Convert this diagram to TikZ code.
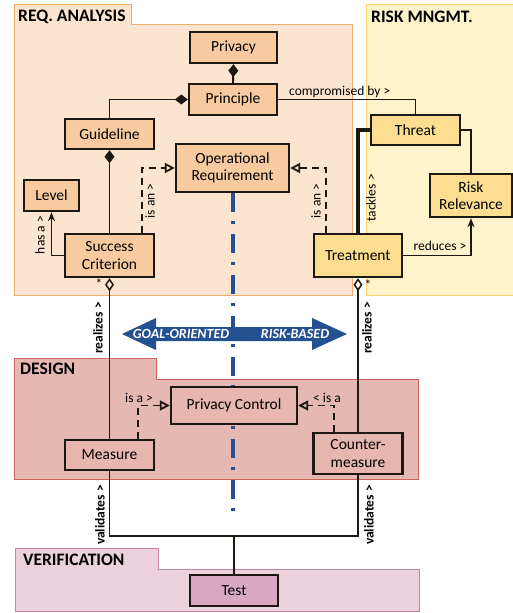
\documentclass[tikz,border=0pt]{standalone}
\usepackage{fontspec}
\setmainfont{Carlito}
\usetikzlibrary{arrows.meta}
\definecolor{reqfill}{RGB}{252,229,208}
\definecolor{reqborder}{RGB}{240,170,110}
\definecolor{reqnode}{RGB}{247,202,160}
\definecolor{riskfill}{RGB}{255,243,204}
\definecolor{riskborder}{RGB}{250,215,110}
\definecolor{risknode}{RGB}{253,222,145}
\definecolor{desfill}{RGB}{230,184,178}
\definecolor{desborder}{RGB}{200,100,90}
\definecolor{desnode}{RGB}{230,182,175}
\definecolor{verfill}{RGB}{234,209,220}
\definecolor{verborder}{RGB}{200,130,165}
\definecolor{vernode}{RGB}{215,168,192}
\definecolor{edgecol}{RGB}{30,24,18}
\definecolor{arrowblue}{RGB}{35,80,145}
\definecolor{dashblue}{RGB}{40,80,145}
\tikzset{
  box/.style={draw=edgecol, line width=2.4pt, inner sep=0pt, align=center,
    font=\fontsize{15.5}{17.5}\selectfont},
  reqbox/.style={box, fill=reqnode},
  riskbox/.style={box, fill=risknode},
  desbox/.style={box, fill=desnode},
  verbox/.style={box, fill=vernode},
  conn/.style={draw=edgecol, line width=1.9pt},
  isa/.style={conn, dashed, dash pattern=on 7pt off 5pt, -{Triangle[open, length=10pt, width=10pt, line width=1.8pt]}},
  comp/.style={conn, {Diamond[length=13pt, width=10pt]}-},
  agg/.style={conn, {Diamond[open, length=13pt, width=9pt, line width=1.5pt]}-},
  lbl/.style={font=\fontsize{13.5}{15}\selectfont, inner sep=1pt},
  blbl/.style={font=\bfseries\fontsize{13.5}{15}\selectfont, inner sep=1pt},
  pkgtitle/.style={font=\bfseries\fontsize{17.5}{19}\selectfont, anchor=west, inner sep=0pt},
  bannertext/.style={font=\bfseries\itshape\fontsize{14}{15}\selectfont, text=white, inner sep=0pt},
}
\begin{document}
\begin{tikzpicture}[x=1pt, y=-1pt]
\useasboundingbox (0,0) rectangle (513,613);
\fill[white] (0,0) rectangle (513,613);
% packages
\draw[fill=reqfill, draw=reqborder, line width=1pt] (14,4) -- (131,4) -- (131,24) -- (352,24) -- (352,295) -- (14,295) -- cycle;
\node[pkgtitle] (tReq) at (18,17) {REQ. ANALYSIS};
\draw[fill=riskfill, draw=riskborder, line width=1pt] (366,4) -- (514,4) -- (514,295) -- (366,295) -- cycle;
\node[pkgtitle] (tRisk) at (371,17) {RISK MNGMT.};
\draw[fill=desfill, draw=desborder, line width=1pt] (14,358) -- (156,358) -- (156,379) -- (418,379) -- (418,479) -- (14,479) -- cycle;
\node[pkgtitle] (tDes) at (20,369) {DESIGN};
\draw[fill=verfill, draw=verborder, line width=1pt] (15,548) -- (158,548) -- (158,569) -- (419,569) -- (419,611) -- (15,611) -- cycle;
\node[pkgtitle] (tVer) at (23,560) {VERIFICATION};
% blue double arrow
\fill[arrowblue] (122,334) -- (156,318) -- (156,327) -- (312,327) -- (312,318) -- (347,334) -- (312,350) -- (312,341) -- (156,341) -- (156,350) -- cycle;
\node[bannertext] (goal) at (181,334) {GOAL-ORIENTED};
\node[bannertext] (risk) at (295,334) {RISK-BASED};
% dash-dot line
\coordinate (dtop) at (233,193);
\coordinate (dbot) at (233,520);
\draw[dashblue, line width=4pt, dash pattern=on 19pt off 9pt on 3pt off 10pt] (dtop) -- (dbot);
% nodes
\node[reqbox, minimum width=87pt, minimum height=31pt] (privacy) at (233.5,47.5) {Privacy};
\node[reqbox, minimum width=88pt, minimum height=31pt] (principle) at (233,99.5) {Principle};
\node[reqbox, minimum width=89pt, minimum height=30pt] (guideline) at (109.5,134) {Guideline};
\node[reqbox, minimum width=113pt, minimum height=48pt] (opreq) at (232.5,168) {Operational\\Requirement};
\node[reqbox, minimum width=55pt, minimum height=31pt] (level) at (51.5,195.5) {Level};
\node[reqbox, minimum width=89pt, minimum height=43pt] (sc) at (109.5,255.5) {Success\\Criterion};
\node[riskbox, minimum width=89pt, minimum height=30pt] (threat) at (415.5,130) {Threat};
\node[riskbox, minimum width=82pt, minimum height=43pt] (riskrel) at (471,195.5) {Risk\\Relevance};
\node[riskbox, minimum width=88pt, minimum height=43pt] (treatment) at (358,255.5) {Treatment};
\node[desbox, minimum width=126pt, minimum height=37pt] (pc) at (234,405.5) {Privacy Control};
\node[desbox, minimum width=89pt, minimum height=30pt] (measure) at (109.5,455) {Measure};
\node[desbox, minimum width=89pt, minimum height=41pt] (cm) at (358,453.5) {Counter-\\measure};
\node[verbox, minimum width=88pt, minimum height=31pt] (test) at (234,590.5) {Test};
% connectors
\draw[comp] (privacy.south) -- (principle.north);
\draw[comp] (principle.west) -| (guideline.north);
\draw[comp] (guideline.south) -- (sc.north);
\draw[conn, -{Stealth[length=9pt, width=7pt]}] (sc.west) -| (level.south);
\node[lbl, rotate=90] (hasa) at (40,235) {has a >};
\draw[isa] ([xshift=-13pt]sc.north east) |- (opreq.west);
\node[lbl, rotate=90] (isan1) at (150,201) {is an >};
\draw[isa] ([xshift=13pt]treatment.north west) |- (opreq.east);
\node[lbl, rotate=90] (isan2) at (316,201) {is an >};
\draw[conn] (principle.east) -| (threat.north);
\node[lbl, anchor=south west] (compby) at (288,99) {compromised by >};
\draw[conn, line width=3.2pt] (threat.west) -| (treatment.north);
\node[lbl, rotate=90] (tackles) at (371,198) {tackles >};
\draw[conn] (threat.east) -| (riskrel.north);
\draw[conn, -{Stealth[length=9pt, width=7pt]}] (treatment.east) -| (riskrel.south);
\node[lbl, anchor=south] (reduces) at (440,252) {reduces >};
\draw[agg] (sc.south) -- (measure.north);
\node[lbl] (star1) at (99,284) {*};
\draw[agg] (treatment.south) -- (treatment.south |- cm.north);
\node[lbl] (star2) at (368,285) {*};
\node[blbl, rotate=90] (real1) at (98,328) {realizes >};
\node[blbl, rotate=90] (real2) at (367,328) {realizes >};
\draw[isa] ([xshift=-17pt]measure.north east) |- (pc.west);
\node[lbl] (isa1) at (139,398) {is a >};
\draw[isa] ([xshift=22pt]cm.north west) |- (pc.east);
\node[lbl] (isa2) at (327,398) {< is a};
\coordinate (vj) at (234,536);
\draw[conn] (measure.south) |- (vj) -| (cm.south);
\draw[conn] (vj) -- (test.north);
\node[blbl, rotate=90] (val1) at (100,515) {validates >};
\node[blbl, rotate=90] (val2) at (369,515) {validates >};
\end{tikzpicture}
\end{document}
